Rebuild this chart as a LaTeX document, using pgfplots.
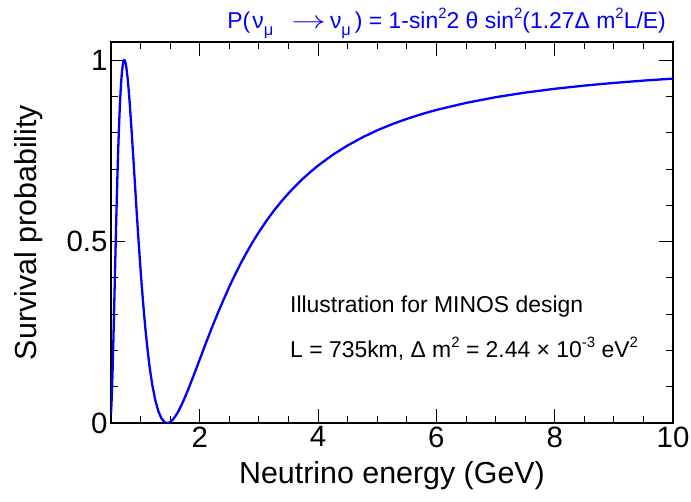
\documentclass[border=0pt]{standalone}
\usepackage{fontspec}
\setmainfont{Liberation Sans}
\usepackage{pgfplots}
\pgfplotsset{compat=1.18}
\definecolor{rootblue}{RGB}{0,0,255}
\newcommand{\tsub}[1]{\raisebox{-0.32em}{\fontsize{16.5}{16.5}\selectfont #1}}
\newcommand{\tsup}[1]{\raisebox{0.45em}{\fontsize{15}{15}\selectfont #1}}
\begin{document}
\begin{tikzpicture}
\useasboundingbox (0bp,0bp) rectangle (691bp,502bp);
\begin{axis}[
  at={(111bp,79bp)}, anchor=south west,
  scale only axis, width=562bp, height=381bp,
  xmin=0.5, xmax=10, ymin=0, ymax=1.05,
  xtick={2,4,6,8,10},
  ytick={0,0.5,1}, yticklabels={0,0.5,1},
  minor xtick={1,1.5,2.5,3,3.5,4.5,5,5.5,6.5,7,7.5,8.5,9,9.5},
  minor ytick={0.1,0.2,0.3,0.4,0.6,0.7,0.8,0.9},
  tick align=inside,
  major tick length=14bp, minor tick length=7bp,
  tick style={black, line width=0.9bp},
  axis line style={line width=1.2bp},
  ticklabel style={font=\fontsize{29.5}{29.5}\selectfont},
  /pgf/number format/assume math mode=true,
  xlabel={Neutrino energy (GeV)},
  ylabel={Survival probability},
  xlabel style={font=\fontsize{30.5}{30.5}\selectfont, at={(axis description cs:0.5,-0.160)}, anchor=base},
  ylabel style={font=\fontsize{30.5}{30.5}\selectfont, at={(axis description cs:-0.1317,0.5)}, anchor=base},
  clip=true,
]
\addplot[color=rootblue, line width=2.3bp] coordinates {
(0.50,0.0245)(0.51,0.0595)(0.52,0.1065)(0.53,0.1626)(0.54,0.2254)(0.55,0.2924)
(0.56,0.3616)(0.57,0.4314)(0.58,0.5001)(0.59,0.5666)(0.60,0.6295)(0.61,0.6884)
(0.62,0.7427)(0.63,0.7919)(0.64,0.8358)(0.65,0.8742)(0.66,0.9073)(0.67,0.9351)
(0.68,0.9575)(0.69,0.9748)(0.70,0.9875)(0.71,0.9956)(0.72,0.9995)(0.725,1.0000)
(0.73,0.9995)(0.74,0.9959)(0.75,0.9890)(0.76,0.9792)(0.78,0.9517)(0.80,0.9157)
(0.82,0.8733)(0.85,0.8014)(0.875,0.7369)(0.90,0.6713)(0.925,0.6053)(0.95,0.5411)
(0.975,0.4798)(1.00,0.4217)(1.025,0.3674)(1.05,0.3176)(1.075,0.2710)(1.10,0.2298)
(1.125,0.1921)(1.15,0.1581)(1.175,0.1292)(1.20,0.1032)(1.25,0.0619)(1.30,0.0326)
(1.35,0.0135)(1.40,0.0031)(1.425,0.0008)(1.45,0.0000)(1.475,0.0007)(1.50,0.0027)
(1.55,0.0102)(1.60,0.0215)(1.65,0.0358)(1.70,0.0524)(1.75,0.0708)(1.80,0.0904)
(1.90,0.1322)(2.00,0.1753)(2.10,0.2183)(2.20,0.2604)(2.30,0.3008)(2.40,0.3387)
(2.50,0.3757)(2.60,0.4098)(2.70,0.4420)(2.80,0.4721)(2.90,0.5000)(3.00,0.5262)
(3.125,0.5565)(3.25,0.5843)(3.375,0.6097)(3.50,0.6330)(3.625,0.6545)(3.75,0.6742)
(3.875,0.6924)(4.00,0.7093)(4.25,0.7393)(4.50,0.7649)(4.75,0.7871)(5.00,0.8066)
(5.25,0.8234)(5.50,0.8381)(5.75,0.8512)(6.00,0.8627)(6.50,0.8821)(7.00,0.8978)
(7.50,0.9105)(8.00,0.9210)(8.50,0.9298)(9.00,0.9372)(9.50,0.9436)(10.00,0.9491)
};
\end{axis}
\node[anchor=base east, text=rootblue, font=\fontsize{23}{23}\selectfont, inner sep=0pt] at (666bp,473.5bp)
  {P(\hspace{2bp}ν\tsub{μ}\hspace{18bp}\scalebox{1.4}[1]{$\rightarrow$}\hspace{4bp}ν\tsub{μ}\hspace{4bp}) = 1-sin\tsup{2}2 θ sin\tsup{2}(1.27Δ m\tsup{2}L/E)};
\node[anchor=base west, font=\fontsize{23}{23}\selectfont, inner sep=0pt] at (290bp,189.7bp)
  {Illustration for MINOS design};
\node[anchor=base west, font=\fontsize{23}{23}\selectfont, inner sep=0pt] at (290bp,144bp)
  {L = 735km, Δ m\tsup{2} = 2.44 × 10\tsup{-3} eV\tsup{2}};
\end{tikzpicture}
\end{document}
